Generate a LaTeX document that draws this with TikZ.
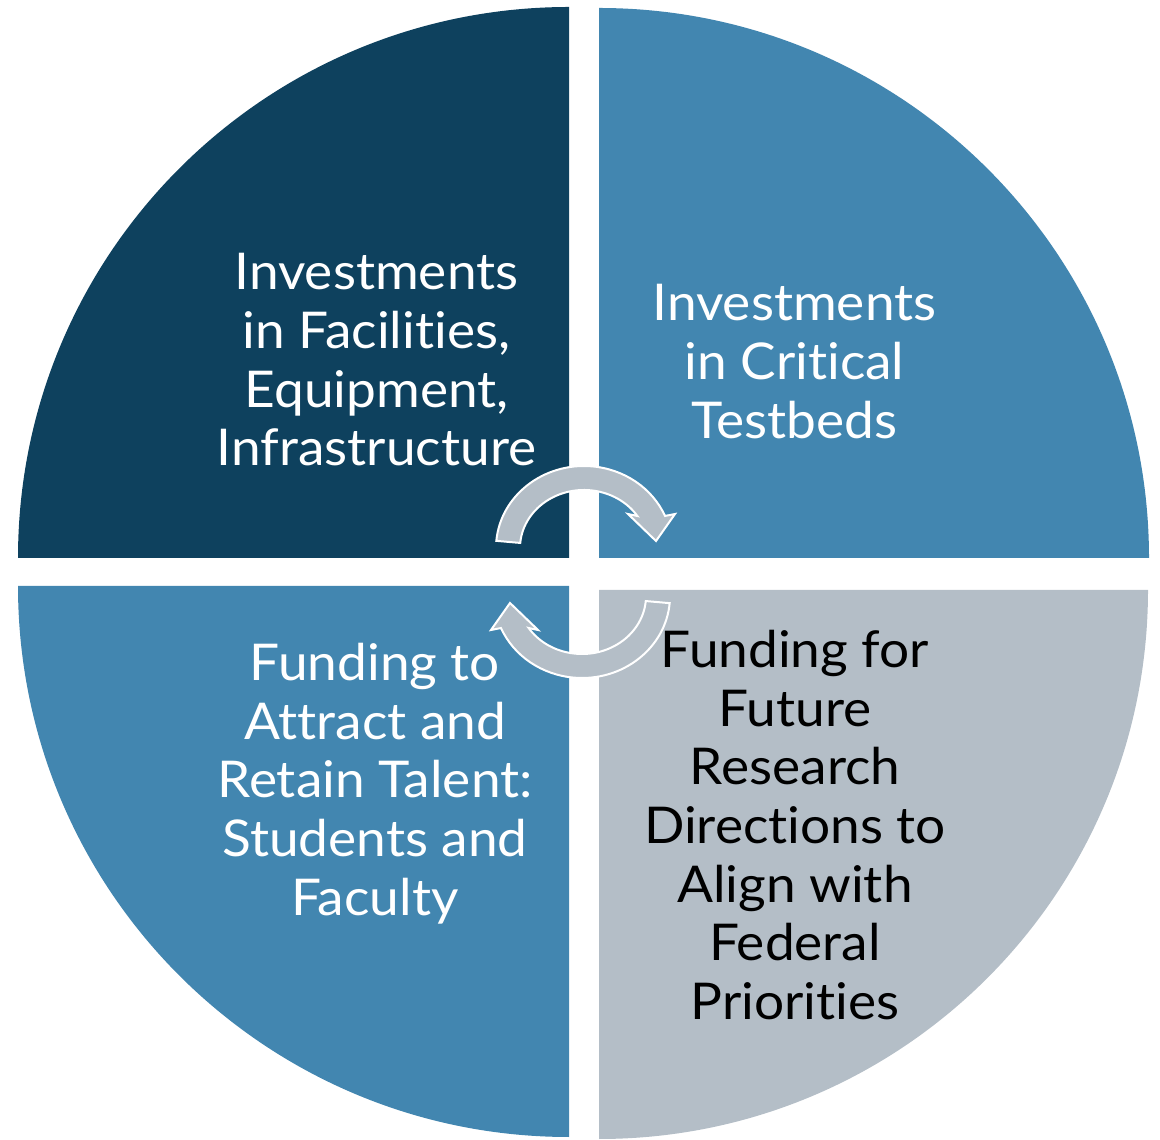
\documentclass[tikz,border=0pt]{standalone}
\usepackage{fontspec}
\setmainfont{Lato}[Ligatures={NoCommon}, FakeStretch=1.05]
\usetikzlibrary{calc}
\definecolor{qdark}{RGB}{14,65,94}
\definecolor{qmid}{RGB}{66,134,176}
\definecolor{qgray}{RGB}{180,190,199}
\begin{document}
\begin{tikzpicture}[x=0.75pt,y=0.75pt,
  lbl/.style={align=center, font=\fontsize{38}{44}\selectfont, inner sep=0pt},
  cyc/.style={fill=qgray, draw=white, line width=1.5pt, line join=miter},
  cycarrow/.style={insert path={
    (175:88 and 82) arc[start angle=175,end angle=23,x radius=88,y radius=82]
    -- (91,34) -- (72,7) -- (44,34) -- (33.5:64 and 58)
    arc[start angle=33.5,end angle=175,x radius=64,y radius=58] -- cycle}}]
\useasboundingbox (0,0) rectangle (1160,1139);
% quadrants
\fill[qdark] (569,581) -- (18,581) arc[start angle=180,end angle=90,radius=551] -- cycle;
\fill[qmid] (599,581) -- (599,1131) arc[start angle=90,end angle=0,radius=550] -- cycle;
\fill[qmid] (569,553) -- (18,553) arc[start angle=180,end angle=270,radius=551] -- cycle;
\fill[qgray] (599,549) -- (1148,549) arc[start angle=0,end angle=-90,radius=549] -- cycle;
% cycle arrows
\path[cyc, shift={(584,591)}, cycarrow];
\path[cyc, shift={(582,543)}, rotate=180, cycarrow];
% labels
\node[lbl, text=white] (tl) at (376.5,779) {Investments\\in Facilities,\\Equipment,\\Infrastructure};
\node[lbl, text=white] (tr) at (794.5,777.5) {Investments\\in Critical\\Testbeds};
\node[lbl, text=white] (bl) at (375,355.5) {Funding to\\Attract and\\Retain Talent:\\Students and\\Faculty};
\node[lbl, text=black] (br) at (795,314) {Funding for\\Future\\Research\\Directions to\\Align with\\Federal\\Priorities};
\end{tikzpicture}
\end{document}
